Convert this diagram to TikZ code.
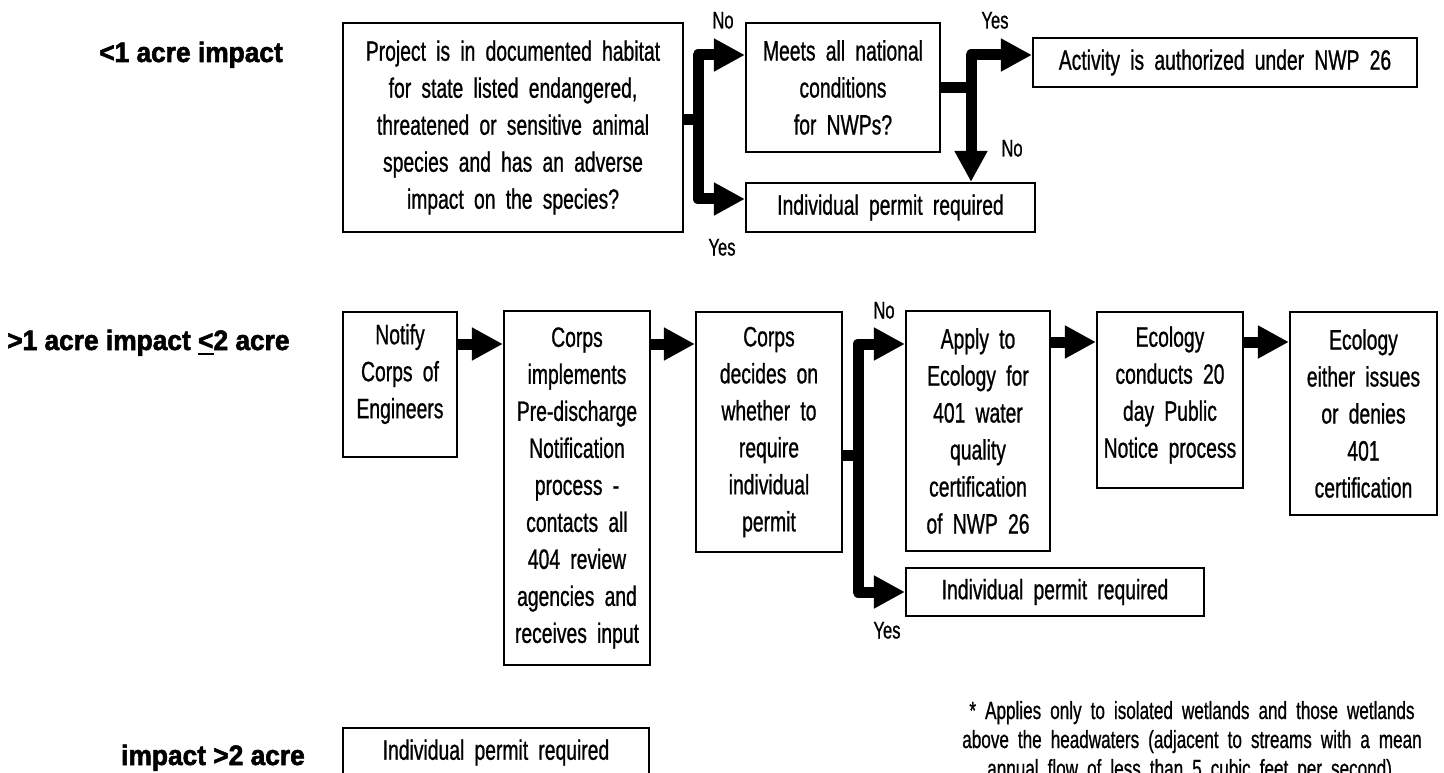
\documentclass[tikz,border=0pt]{standalone}
\usepackage{fontspec}
\setmainfont{Liberation Sans}[FakeStretch=0.69, WordSpace=1.9, FakeBold=0.8]
\newfontfamily\fcHeadFam{Liberation Sans}[FakeStretch=0.94, FakeBold=2]
\usetikzlibrary{arrows.meta}

\newcommand\fcBox{\fontsize{28}{37}\selectfont}
\newcommand\fcYN{\fontsize{24}{28}\selectfont}
\newcommand\fcNote{\fontsize{24.8}{30}\selectfont}
\newcommand\fcHead{\fcHeadFam\bfseries\fontsize{28}{34}\selectfont}
% underlined "<" for "less than or equal"
\newcommand\fcLeq{\setbox0\hbox{<}\rlap{\rule[-5pt]{\wd0}{2.4pt}}\box0\relax}

\begin{document}
\begin{tikzpicture}[x=1pt,y=-1pt,
  box/.style={draw, line width=2.2pt, inner sep=0pt, align=center, font=\fcBox},
  boxtext/.style={inner sep=0pt, align=center, font=\fcBox},
  conn/.style={line width=11pt},
  arr/.style={conn, line join=round, -{Triangle[length=31pt,width=31pt]}},
  yn/.style={font=\fcYN, anchor=base, inner sep=0pt},
  head/.style={font=\fcHead, anchor=base west, inner sep=0pt},
  note/.style={font=\fcNote, anchor=base, inner sep=0pt}]

\useasboundingbox (0,0) rectangle (1444,773);
\fill[white] (0,0) rectangle (1444,773);
\clip (0,0) rectangle (1444,773);

% ---- row labels
\node[head] (h1) at (99,62) {<1 acre impact};
\node[head] (h2) at (7,350) {>1 acre impact \fcLeq 2 acre};
\node[head] (h3) at (121,765) {impact >2 acre};

% ---- first row: less than one acre
\node[box, minimum width=340pt, minimum height=209pt] (b1) at (513,127.5)
  {Project is in documented habitat\\for state listed endangered,\\threatened or sensitive animal\\species and has an adverse\\impact on the species?};
\node[box, minimum width=194pt, minimum height=129pt] (b2) at (843,87.5)
  {Meets all national\\conditions\\for NWPs?};
\node[box, minimum width=289pt, minimum height=49pt] (b3) at (890.5,207.5)
  {Individual permit required};
\node[box, minimum width=384pt, minimum height=49pt] (b4) at (1225,62.5)
  {Activity is authorized under NWP 26};

\coordinate (r1a) at (0,55);
\coordinate (r1b) at (0,199);
\coordinate (j1) at (698,120);
\coordinate (j2) at (971,87.5);

\draw[conn] (b1.east |- j1) -- (j1);
\draw[arr] (j1) |- (b2.west |- r1a);
\draw[arr] (j1) |- (b3.west |- r1b);
\draw[conn] (b2.east) -- (j2);
\draw[arr] (j2) |- (b4.west |- r1a);
\draw[arr] (j2) -- (j2 |- b3.north);

\node[yn] (no1) at (723,28.5) {No};
\node[yn] (yes1) at (722,255.5) {Yes};
\node[yn] (yes2) at (995,28.5) {Yes};
\node[yn] (no2) at (1012,156.5) {No};

% ---- second row: one to two acres
\node[box, minimum width=114pt, minimum height=145pt] (m1) at (400,384.5) {};
\node[boxtext] (m1t) at (400,374) {Notify\\Corps of\\Engineers};
\node[box, minimum width=146pt, minimum height=354pt] (m2) at (577,488)
  {Corps\\implements\\Pre-discharge\\Notification\\process -\\contacts all\\404 review\\agencies and\\receives input};
\node[box, minimum width=146pt, minimum height=240pt] (m3) at (769,432)
  {Corps\\decides on\\whether to\\require\\individual\\permit};
\node[box, minimum width=144pt, minimum height=240pt] (m4) at (978,431)
  {Apply to\\Ecology for\\401 water\\quality\\certification\\of NWP 26};
\node[box, minimum width=146pt, minimum height=176pt] (m5) at (1170,400) {};
\node[boxtext] (m5t) at (1170,395) {Ecology\\conducts 20\\day Public\\Notice process};
\node[box, minimum width=147pt, minimum height=203pt] (m6) at (1363.5,413.5)
  {Ecology\\either issues\\or denies\\401\\certification};
\node[box, minimum width=298pt, minimum height=48pt] (m7) at (1055,592)
  {Individual permit required};

\coordinate (r2) at (0,344);
\coordinate (r3) at (0,342);
\coordinate (j3) at (858,455);

\draw[arr] (m1.east |- r2) -- (m2.west |- r2);
\draw[arr] (m2.east |- r2) -- (m3.west |- r2);
\draw[conn] (m3.east |- j3) -- (j3);
\draw[arr] (j3) |- (m4.west |- r2);
\draw[arr] (j3) |- (m7.west);
\draw[arr] (m4.east |- r3) -- (m5.west |- r3);
\draw[arr] (m5.east |- r3) -- (m6.west |- r3);

\node[yn] (no3) at (884,318.5) {No};
\node[yn] (yes3) at (887,638.5) {Yes};

% ---- third row: more than two acres
\node[box, minimum width=306pt, minimum height=49pt] (c1) at (496,752.5)
  {Individual permit required};

% ---- footnote
\node[note] (fn1) at (1192,719) {* Applies only to isolated wetlands and those wetlands};
\node[note] (fn2) at (1192,748) {above the headwaters (adjacent to streams with a mean};
\node[note] (fn3) at (1192,777) {annual flow of less than 5 cubic feet per second).};
\end{tikzpicture}
\end{document}
